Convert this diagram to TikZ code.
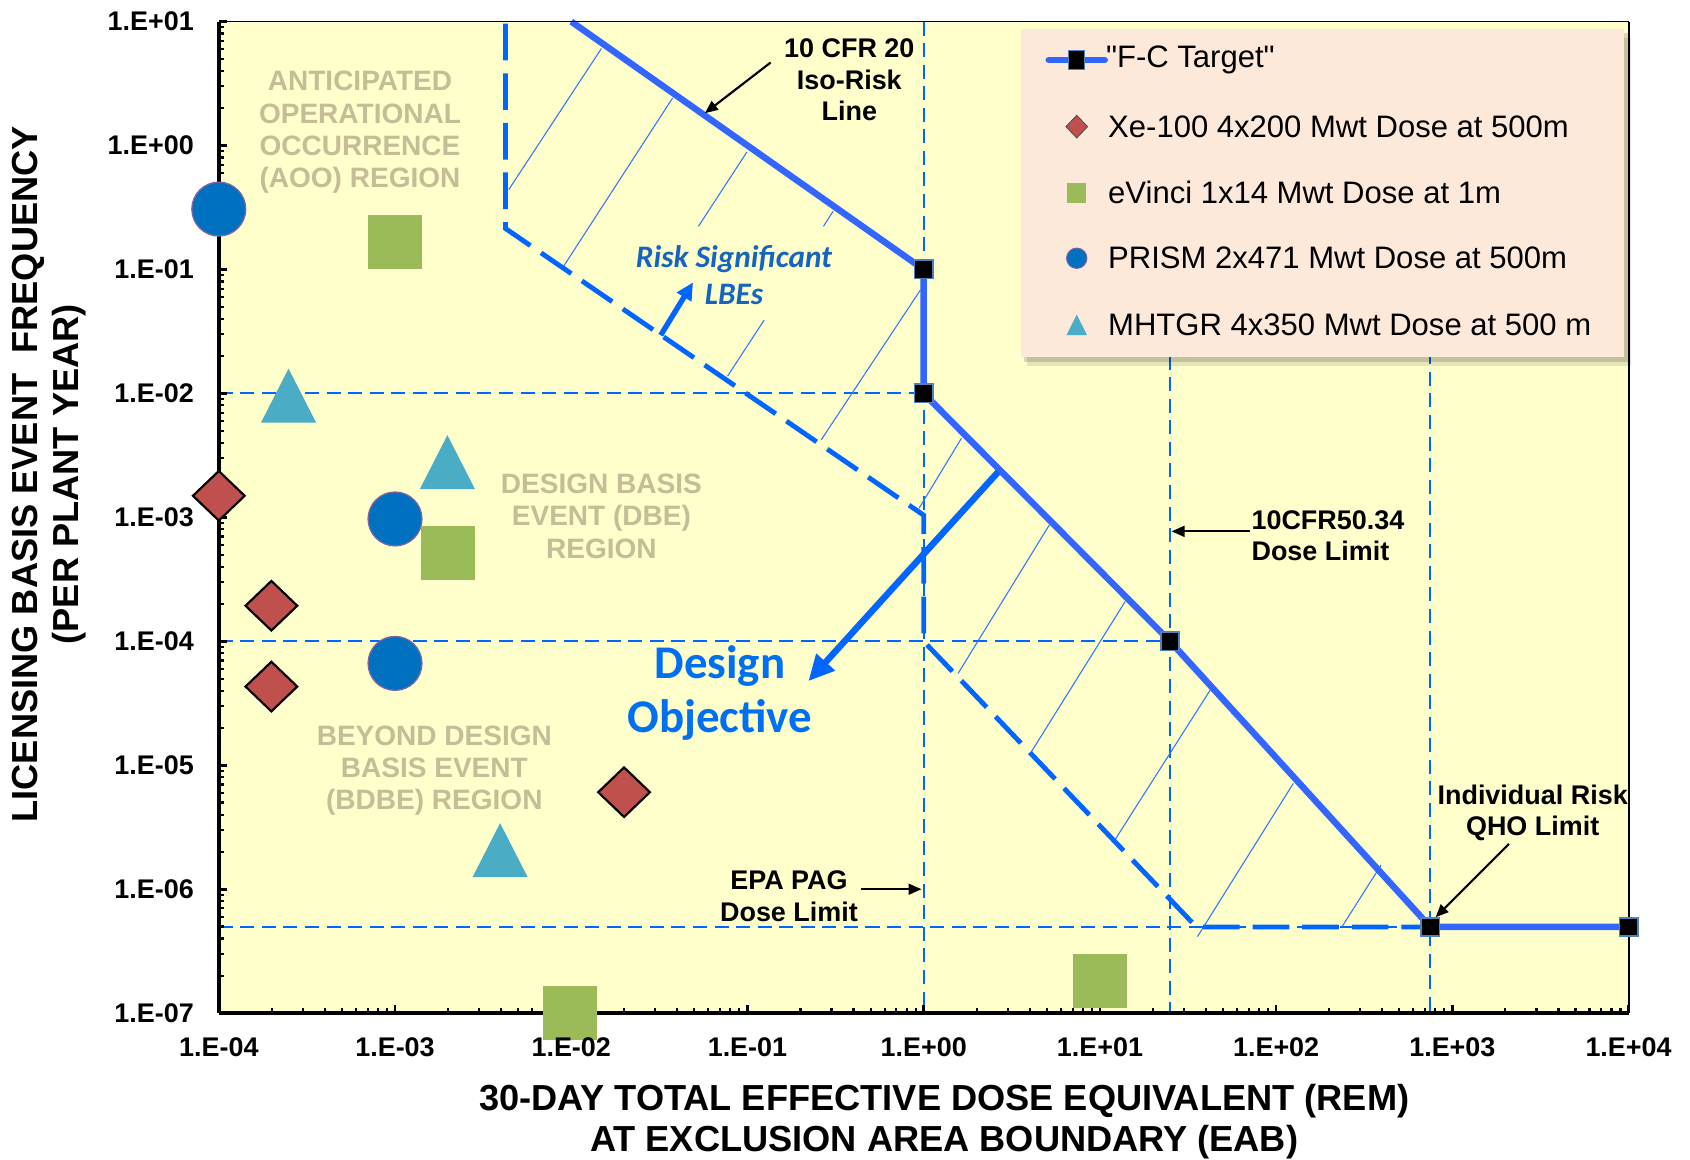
\documentclass[tikz,border=0pt]{standalone}
\usepackage{fontspec}
\setmainfont{Liberation Sans}
\newfontfamily\calibfont{Carlito}
\newfontfamily\plainfont{Liberation Sans}[Ligatures=TeXOff]
\usetikzlibrary{arrows.meta}
\definecolor{plotbg}{RGB}{255,255,204}
\definecolor{legbg}{RGB}{253,233,217}
\definecolor{fcblue}{RGB}{51,102,255}
\definecolor{dblue}{RGB}{0,102,255}
\definecolor{hatchc}{RGB}{51,119,255}
\definecolor{steelc}{RGB}{79,129,189}
\definecolor{prismc}{RGB}{0,112,192}
\definecolor{prismln}{RGB}{128,100,162}
\definecolor{evc}{RGB}{155,187,89}
\definecolor{xec}{RGB}{192,80,77}
\definecolor{mhc}{RGB}{75,172,198}
\definecolor{graytxt}{RGB}{196,189,151}
\definecolor{riskc}{RGB}{21,101,192}
\definecolor{doc}{RGB}{0,112,240}
\begin{document}
\begin{tikzpicture}[x=1pt,y=-1pt,
  ticklab/.style={font=\bfseries\fontsize{25}{30}\selectfont, inner sep=0pt},
  axtitle/.style={font=\bfseries\fontsize{33.6}{38}\selectfont, align=center, inner sep=0pt},
  gridln/.style={dblue, line width=1.8pt, dash pattern=on 13pt off 7pt},
  boundln/.style={dblue, line width=4.5pt, dash pattern=on 34pt off 12pt},
  fcln/.style={fcblue, line width=6pt, line join=round},
  fcmark/.style={rectangle, fill=black, draw=steelc, line width=1.5pt, minimum size=17pt, inner sep=0pt},
  hatchln/.style={hatchc, line width=1pt},
  region/.style={text=graytxt, font=\bfseries\fontsize{26}{30}\selectfont, align=center, inner sep=0pt},
  note/.style={font=\bfseries\fontsize{25}{29}\selectfont, inner sep=0pt},
  notearrow/.style={-{Triangle[length=12pt,width=10pt]}, line width=2pt, black},
  legtxt/.style={font=\fontsize{28.8}{32}\selectfont, anchor=west, inner sep=0pt},
  xemark/.pic={\draw[fill=xec, line width=2pt] (-24,0)--(0,-23)--(24,0)--(0,23)--cycle;},
  evmark/.pic={\fill[evc] (-25,-25) rectangle (25,25);},
  prmark/.pic={\draw[fill=prismc, draw=prismln, line width=1.2pt] (0,0) circle[radius=25];},
  mhmark/.pic={\fill[mhc] (0,-25) -- (25.5,25) -- (-25.5,25) -- cycle;},
]
\useasboundingbox (0,0) rectangle (1568,1076);
\fill[white] (0,0) rectangle (1568,1076);
% plot area
\fill[plotbg] (203,20) rectangle (1511,940);
% grid lines
\draw[gridln] (203,365) -- (857,365);
\draw[gridln] (203,595) -- (1085.6,595);
\draw[gridln] (203,860) -- (1511,860);
\draw[gridln] (857,20) -- (857,940);
\draw[gridln] (1085.6,330) -- (1085.6,940);
\draw[gridln] (1327,325) -- (1327,940);
% hatch lines
\draw[hatchln] (472,176) -- (558,45);
\draw[hatchln] (521,250) -- (624,91);
\draw[hatchln] (648,210) -- (693,141);
\draw[hatchln] (764,210) -- (773,196);
\draw[hatchln] (675,349) -- (709,297);
\draw[hatchln] (762,408) -- (854,269);
\draw[hatchln] (852.6,471.7) -- (892,406.7);
\draw[hatchln] (889,624.7) -- (973.6,487);
\draw[hatchln] (957,697.4) -- (1044,558);
\draw[hatchln] (1034.6,779) -- (1123,640);
\draw[hatchln] (1111,869) -- (1200,726.8);
\draw[hatchln] (1245,860) -- (1281.4,802.6);
% design objective boundary (dashed)
\draw[boundln] (469,22) -- (469,212) -- (857,478) -- (857,595) -- (1110,860) -- (1327,860);
% F-C target line
\coordinate (k0) at (530,20);
\coordinate (k1) at (857,250);
\coordinate (k2) at (857,365);
\coordinate (k3) at (1085.6,595);
\coordinate (k4) at (1327,860);
\coordinate (k5) at (1511,860);
\draw[fcln] (k0) -- (k1) -- (k2) -- (k3) -- (k4) -- (k5);
% axes
\draw[line width=1.5pt] (203,20) -- (1511,20);
\draw[line width=2pt] (1511,20) -- (1511,940);
\draw[line width=4pt] (203,20) -- (203,940);
\draw[line width=4pt] (203,940) -- (1511,940);
\foreach \n in {0,...,7}{
  \foreach \k in {2,...,9}{
    \pgfmathsetmacro\yy{940-115*(\n+ln(\k)/ln(10))}
    \pgfmathsetmacro\xx{203+163.5*(\n+ln(\k)/ln(10))}
    \draw[line width=2pt] (203,\yy) -- (208,\yy);
    \draw[line width=2pt] (\xx,940) -- (\xx,935);
  }
}
\foreach \n in {1,...,8}{
  \draw[line width=2.5pt] (203,940-115*\n) -- (211,940-115*\n);
  \draw[line width=2.5pt] (203+163.5*\n,940) -- (203+163.5*\n,932);
}
% F-C markers
\foreach \k in {1,...,5}{\node[fcmark] (m\k) at (k\k) {};}
% data markers
\pic at (203,194) {prmark};
\pic at (366.5,481.5) {prmark};
\pic at (366.5,615.5) {prmark};
\pic at (366.5,224.3) {evmark};
\pic at (415.4,513.4) {evmark};
\pic at (529,940) {evmark};
\pic at (1020.5,909.8) {evmark};
\pic at (203,460) {xemark};
\pic at (251.8,562) {xemark};
\pic at (251.8,637) {xemark};
\pic at (579,735) {xemark};
\pic at (267.7,367) {mhmark};
\pic at (415.1,428.7) {mhmark};
\pic at (464,788.7) {mhmark};
% tick labels
\foreach \lab [count=\i from 0] in {1.E+01,1.E+00,1.E-01,1.E-02,1.E-03,1.E-04,1.E-05,1.E-06,1.E-07}{
  \node[ticklab, anchor=east] (yl\i) at (180,20+115*\i) {\lab};
}
\foreach \lab [count=\i from 0] in {1.E-04,1.E-03,1.E-02,1.E-01,1.E+00,1.E+01,1.E+02,1.E+03,1.E+04}{
  \node[ticklab] (xl\i) at (203+163.5*\i,972) {\lab};
}
% axis titles
\node[axtitle] (xtitle) at (876,1041) {30-DAY TOTAL EFFECTIVE DOSE EQUIVALENT (REM)\\AT EXCLUSION AREA BOUNDARY (EAB)};
\node[axtitle, rotate=90] (ytitle) at (46,440) {LICENSING BASIS EVENT\ \ FREQUENCY\\(PER PLANT YEAR)};
% region labels
\node[region] (aoo) at (334,123) {ANTICIPATED\\OPERATIONAL\\OCCURRENCE\\(AOO) REGION};
\node[region] (dbe) at (558,479) {DESIGN BASIS\\EVENT (DBE)\\REGION};
\node[region] (bdbe) at (403,715) {BEYOND DESIGN\\BASIS EVENT\\(BDBE) REGION};
% legend
\fill[black, opacity=0.10] (953,35) rectangle (1513,340);
\fill[black, opacity=0.15] (950,31) rectangle (1510,336);
\fill[legbg] (947,27) rectangle (1507,331);
\coordinate (lg0a) at (973,55.7);
\coordinate (lg0b) at (1025,55.7);
\draw[fcln, line cap=round] (lg0a) -- (lg0b);
\node[rectangle, fill=black, draw=steelc, line width=1.2pt, minimum width=15pt, minimum height=18pt, inner sep=0pt] (lgm) at (999,55.7) {};
\node[legtxt, font=\plainfont\fontsize{28.8}{32}\selectfont] (lg0) at (1026,55.7) {"F-C Target"};
\draw[fill=xec, draw=black!70, line width=0.8pt] (989,117.5) -- (999,107) -- (1009,117.5) -- (999,128) -- cycle;
\node[legtxt] (lg1) at (1028,117.5) {Xe-100 4x200 Mwt Dose at 500m};
\fill[evc] (990,169.5) rectangle (1007.5,188);
\node[legtxt] (lg2) at (1028,178.8) {eVinci 1x14 Mwt Dose at 1m};
\draw[fill=prismc, draw=prismln, line width=0.8pt] (999,239.6) circle[radius=9.5];
\node[legtxt] (lg3) at (1028,239.6) {PRISM 2x471 Mwt Dose at 500m};
\fill[mhc] (999,292) -- (1008.5,311) -- (989.5,311) -- cycle;
\node[legtxt] (lg4) at (1028,301.5) {MHTGR 4x350 Mwt Dose at 500 m};
% annotations
\node[note, align=center] (cfr20) at (788,74) {10 CFR 20\\Iso-Risk\\Line};
\coordinate (cfr20a) at (715,58);
\coordinate (cfr20b) at (654,105);
\draw[notearrow] (cfr20a) -- (cfr20b);
\node[note, align=left, anchor=west] (cfr50) at (1161,497) {10CFR50.34\\Dose Limit};
\coordinate (cfr50a) at (1160,493);
\coordinate (cfr50b) at (1087,493);
\draw[notearrow] (cfr50a) -- (cfr50b);
\node[note, align=center] (epa) at (732,831.5) {EPA PAG\\Dose Limit};
\coordinate (epaa) at (799,825);
\coordinate (epab) at (855,825);
\draw[notearrow] (epaa) -- (epab);
\node[note, align=center] (qho) at (1422,754) {Individual Risk\\QHO Limit};
\coordinate (qhoa) at (1400,783);
\coordinate (qhob) at (1332,851);
\draw[notearrow] (qhoa) -- (qhob);
% risk significant LBEs
\node[text=riskc, font=\calibfont\bfseries\itshape\fontsize{29}{34}\selectfont, align=center, inner sep=0pt] (rs) at (681,255) {Risk Significant\\LBEs};
\coordinate (rsa) at (613,311);
\coordinate (rsb) at (643,262);
\draw[dblue, line width=5pt, -{Triangle[length=16pt,width=15pt]}] (rsa) -- (rsb);
% design objective
\coordinate (doa) at (926,438);
\coordinate (dob) at (750,632);
\draw[dblue, line width=6pt, -{Triangle[length=24pt,width=22pt]}] (doa) -- (dob);
\node[text=doc, font=\calibfont\bfseries\fontsize{43.5}{50}\selectfont, align=center, inner sep=0pt] (dobj) at (668,643) {Design\\Objective};
\end{tikzpicture}
\end{document}
